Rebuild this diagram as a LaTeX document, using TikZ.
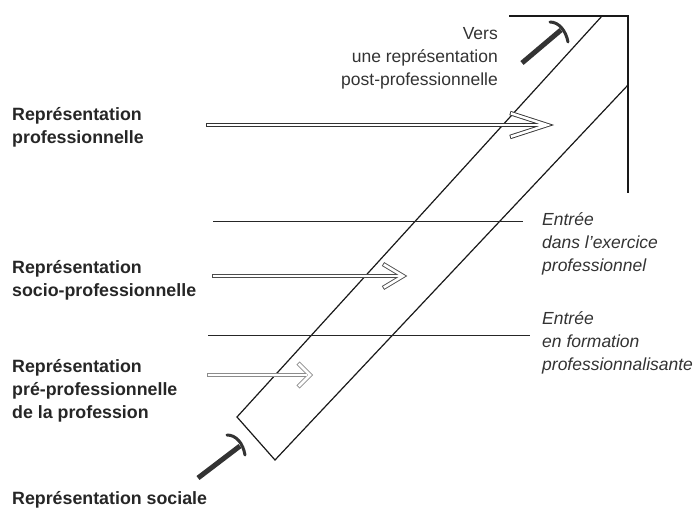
\documentclass[tikz,border=0pt]{standalone}
\usepackage{fontspec}
\setmainfont{Liberation Sans}
\begin{document}
\begin{tikzpicture}[x=1pt,y=-1pt,
  bandline/.style={line width=1.2pt, draw=black!90},
  stage/.style={line width=0.9pt, draw=black!85},
  bracket/.style={line width=2.4pt, draw=black!90, line cap=rect},
  lbl/.style={inner sep=0pt, align=left, font=\bfseries\fontsize{17.8}{23}\selectfont, text=black!85},
  rlbl/.style={inner sep=0pt, align=left, font=\itshape\fontsize{17.5}{23}\selectfont, text=black!80},
  vlbl/.style={inner sep=0pt, align=right, font=\fontsize{17.5}{23}\selectfont, text=black!80},
  thickshaft/.style={line width=5pt, draw=black!80},
  thickcap/.style={line width=3pt, draw=black!80, line cap=round}]
\useasboundingbox (0,0) rectangle (696,508);
\newcommand\hollowarr[6]{%
  \draw[line width=4.4pt, draw=#6] (#1,#3) -- (#2-3,#3);
  \draw[line width=4.4pt, draw=#6, line join=miter] (#2-#4,#3-#5) -- (#2,#3) -- (#2-#4,#3+#5);
  \draw[line width=2.6pt, draw=white] (#1+0.9,#3) -- (#2-3,#3);
  \draw[line width=2.6pt, draw=white, line join=miter, shorten <=0.9pt, shorten >=0.9pt] (#2-#4,#3-#5) -- (#2,#3) -- (#2-#4,#3+#5);
}
% band
\coordinate (bl) at (237,417);
\coordinate (br) at (275,460);
\coordinate (tl) at (602,16);
\coordinate (tr) at (628,85);
\draw[bandline] (tl) -- (bl) -- (br) -- (tr);
% bracket
\coordinate (bk1) at (510,16);
\coordinate (bk2) at (628,16);
\coordinate (bk3) at (628,192);
\draw[bracket] (bk1) -- (bk2) -- (bk3);
% stage lines
\coordinate (s1a) at (213,221);
\coordinate (s1b) at (523,221);
\coordinate (s2a) at (208,335);
\coordinate (s2b) at (530,335);
\draw[stage] (s1a) -- (s1b);
\draw[stage] (s2a) -- (s2b);
% hollow arrows
\hollowarr{206}{547}{125}{37}{12}{black!80}
\hollowarr{212}{403}{276}{20}{12}{black!70}
\hollowarr{207}{310}{375}{12}{12}{black!45}
% thick arrows
\coordinate (ba1) at (198,478);
\coordinate (ba2) at (240,446);
\draw[thickshaft] (ba1) -- (ba2);
\draw[thickcap] (227,435) .. controls (236,435) and (243,443) .. (245,455);
\coordinate (ta1) at (522,63);
\coordinate (ta2) at (561,30);
\draw[thickshaft] (ta1) -- (ta2);
\draw[thickcap] (550,22) .. controls (559,22) and (566,31) .. (568,42);
% labels (base anchor = last line)
\node[lbl, anchor=base west] (l1) at (12,143) {Représentation\\professionnelle};
\node[lbl, anchor=base west] (l2) at (12,296) {Représentation\\socio-professionnelle};
\node[lbl, anchor=base west] (l3) at (12,418) {Représentation\\pré-professionnelle\\de la profession};
\node[lbl, anchor=base west] (l4) at (12,504) {Représentation sociale};
\node[vlbl, anchor=base east] (v) at (498,86) {Vers\\une représentation\\post-professionnelle};
\node[rlbl, anchor=base west] (r1) at (542,271) {Entrée\\dans l’exercice\\professionnel};
\node[rlbl, anchor=base west] (r2) at (542,370) {Entrée\\en formation\\professionnalisante};
\end{tikzpicture}
\end{document}
